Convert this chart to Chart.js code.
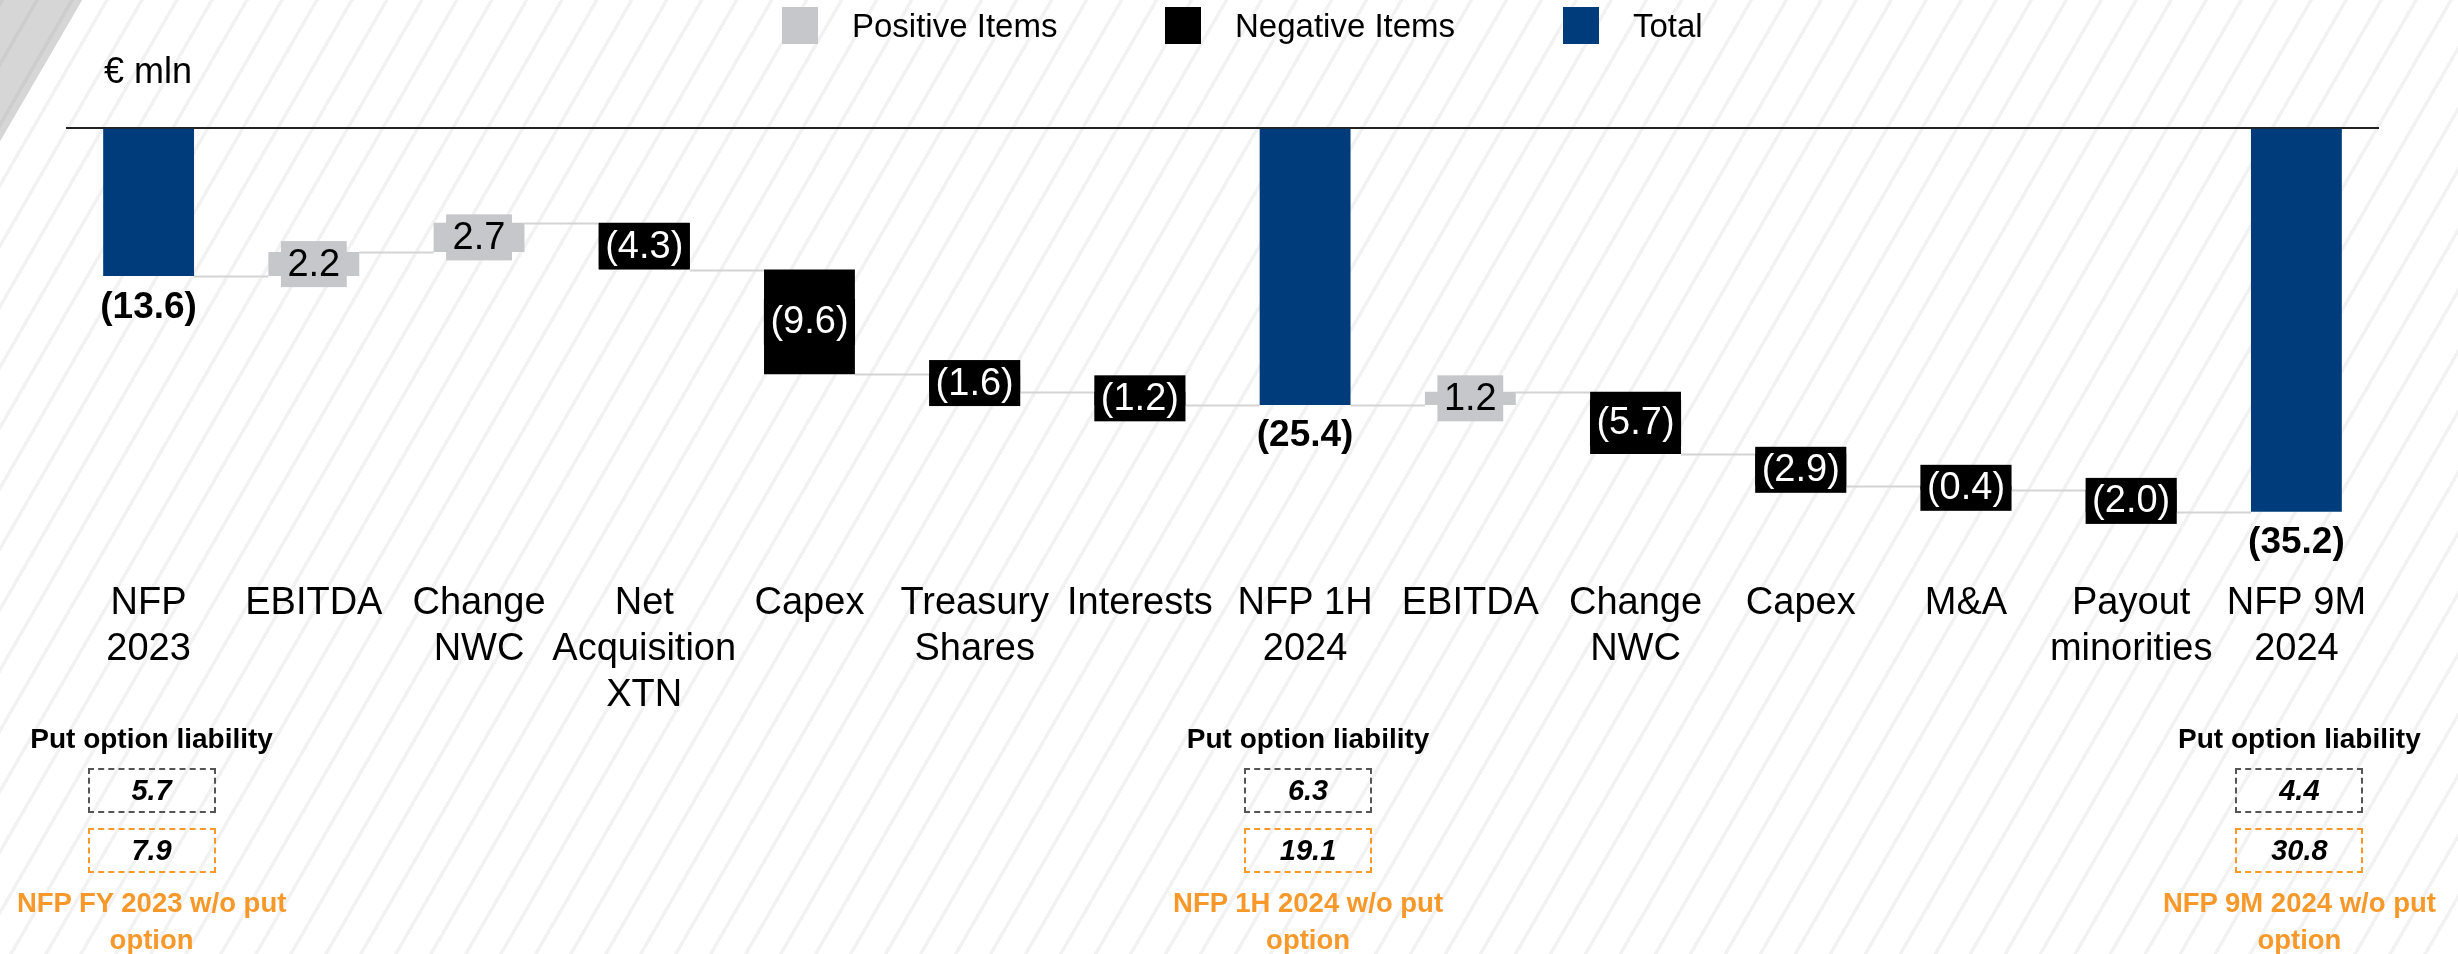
<!DOCTYPE html>
<html>
<head>
<meta charset="utf-8">
<title>NFP bridge</title>
<script src="https://cdn.jsdelivr.net/npm/chart.js@4.4.1/dist/chart.umd.min.js"></script>
<style>
  html, body { margin: 0; padding: 0; }
  body {
    width: 2458px; height: 954px; position: relative; overflow: hidden;
    background-color: #fff;
    background-image: repeating-linear-gradient(120deg, #f2f2f2 0px, #f2f2f2 3.4px, #ffffff 3.4px, #ffffff 30.3px);
    font-family: 'Liberation Sans', Arial, sans-serif;
    color: #000;
  }
  #corner { position: absolute; left: 0; top: 0; width: 90px; height: 150px;
            background-color: #d6d6d6;
            background-image: repeating-linear-gradient(120deg, #cdcdcd 0px, #cdcdcd 3.6px, #d6d6d6 3.6px, #d6d6d6 30.3px);
            clip-path: polygon(0 0, 82px 0, 0 141px); }
  #chart { position: absolute; left: 0; top: 0; }
  #unit { position: absolute; left: 104px; top: 52.5px; font-size: 36px; line-height: 36px; }
  .put { position: absolute; top: 725px; width: 360px; text-align: center; }
  .put-title { font-weight: bold; font-size: 28px; line-height: 28px; }
  .put-box { width: 128px; height: 45px; box-sizing: border-box; margin: 15px auto 0;
             font-weight: bold; font-style: italic; font-size: 29px; line-height: 41px; }
  .put-box.liab { border: 2px dashed #555; }
  .put-box.nfp { border: 2px dashed #f7992a; }
  .put-caption { margin-top: 11px; font-weight: bold; font-size: 27.5px; line-height: 37px; color: #f7992a; }
</style>
</head>
<body>
<div id="corner"></div>
<canvas id="chart" width="2458" height="954"></canvas>
<div id="unit">€ mln</div>
<script>
// --- data ---
const categories = [
  ['NFP', '2023'], 'EBITDA', ['Change', 'NWC'], ['Net', 'Acquisition', 'XTN'], 'Capex',
  ['Treasury', 'Shares'], 'Interests', ['NFP 1H', '2024'], 'EBITDA', ['Change', 'NWC'],
  'Capex', 'M&A', ['Payout', 'minorities'], ['NFP 9M', '2024']
];
const values = [-13.6, 2.2, 2.7, -4.3, -9.6, -1.6, -1.2, -25.4, 1.2, -5.7, -2.9, -0.4, -2.0, -35.2];
const isTotal = [true, false, false, false, false, false, false, true, false, false, false, false, false, true];

// put option boxes under the three totals
const putIndex = [0, 7, 13];
const putLiability = ['5.7', '6.3', '4.4'];
const nfpWithoutPut = ['7.9', '19.1', '30.8'];
const putCaptions = [
  ['NFP FY 2023 w/o put', 'option'],
  ['NFP 1H 2024 w/o put', 'option'],
  ['NFP 9M 2024 w/o put', 'option']
];

const legendNames = ['Positive Items', 'Negative Items', 'Total'];

const GREY = '#c6c7ca';
const BLACK = '#000000';
const BLUE = '#003c7b';
const FONT = "'Liberation Sans', Arial, sans-serif";
const BAR_PCT = 0.55;

// running totals -> floating bars
const ranges = [];
const levels = [];
let running = 0;
values.forEach((v, i) => {
  if (isTotal[i]) {
    ranges.push([0, v]);
    running = v;
  } else {
    ranges.push([running, running + v]);
    running = running + v;
  }
  levels.push(running);
});

const positiveData = ranges.map((r, i) => (!isTotal[i] && values[i] > 0) ? r : null);
const negativeData = ranges.map((r, i) => (!isTotal[i] && values[i] < 0) ? r : null);
const totalData = ranges.map((r, i) => isTotal[i] ? r : null);

const fmt = v => v < 0 ? '(' + Math.abs(v).toFixed(1) + ')' : v.toFixed(1);

const waterfallPlugin = {
  id: 'waterfall',
  beforeDatasetsDraw(chart) {
    const {ctx, scales: {x, y}} = chart;
    const half = (x.getPixelForValue(1) - x.getPixelForValue(0)) * BAR_PCT / 2;
    ctx.save();
    ctx.strokeStyle = '#d4d4d4';
    ctx.lineWidth = 2;
    for (let i = 0; i < values.length - 1; i++) {
      const yy = Math.round(y.getPixelForValue(levels[i])) + 0.5;
      ctx.beginPath();
      ctx.moveTo(x.getPixelForValue(i) + half, yy);
      ctx.lineTo(x.getPixelForValue(i + 1) - half, yy);
      ctx.stroke();
    }
    ctx.restore();
  },
  afterDatasetsDraw(chart) {
    const {ctx, scales: {x, y}} = chart;
    ctx.save();
    ctx.textAlign = 'center';
    values.forEach((v, i) => {
      const cx = x.getPixelForValue(i);
      const y0 = y.getPixelForValue(ranges[i][0]);
      const y1 = y.getPixelForValue(ranges[i][1]);
      const text = fmt(v);
      if (isTotal[i]) {
        ctx.font = 'bold 37px ' + FONT;
        ctx.fillStyle = '#000';
        ctx.textBaseline = 'alphabetic';
        ctx.fillText(text, cx, Math.max(y0, y1) + 41.5);
      } else {
        ctx.font = '38px ' + FONT;
        const w = ctx.measureText(text).width + 13;
        const cy = (y0 + y1) / 2;
        ctx.fillStyle = v > 0 ? GREY : BLACK;
        ctx.fillRect(cx - w / 2, cy - 23, w, 46);
        ctx.fillStyle = v > 0 ? '#000' : '#fff';
        ctx.textBaseline = 'middle';
        ctx.fillText(text, cx, cy + 1);
      }
    });
    ctx.restore();
  },
  afterDraw(chart) {
    // legend laid out like the slide
    const {ctx} = chart;
    const starts = [782, 1165, 1563];
    ctx.save();
    ctx.font = '33px ' + FONT;
    ctx.textBaseline = 'alphabetic';
    ctx.textAlign = 'left';
    chart.data.datasets.forEach((ds, k) => {
      ctx.fillStyle = ds.backgroundColor;
      ctx.fillRect(starts[k], 7, 36, 37);
      ctx.fillStyle = '#000';
      ctx.fillText(ds.label, starts[k] + 70, 37);
    });
    ctx.restore();
  }
};

const common = {grouped: false, categoryPercentage: 1, barPercentage: BAR_PCT, borderWidth: 0, borderSkipped: false};

const chart = new Chart(document.getElementById('chart'), {
  type: 'bar',
  data: {
    labels: categories,
    datasets: [
      Object.assign({label: legendNames[0], data: positiveData, backgroundColor: GREY}, common),
      Object.assign({label: legendNames[1], data: negativeData, backgroundColor: BLACK}, common),
      Object.assign({label: legendNames[2], data: totalData, backgroundColor: BLUE}, common)
    ]
  },
  options: {
    responsive: false,
    animation: false,
    layout: {padding: {left: 66, right: 79, top: 127.7, bottom: 227}},
    plugins: {
      legend: {display: false},
      tooltip: {enabled: false}
    },
    scales: {
      x: {
        offset: true,
        grid: {display: false},
        border: {display: false},
        ticks: {
          autoSkip: false, maxRotation: 0, minRotation: 0, padding: 9, color: '#000',
          font: {family: FONT, size: 38, lineHeight: 1.2}
        }
      },
      y: {
        min: -40,
        max: 0,
        border: {display: false},
        ticks: {display: false, stepSize: 10},
        grid: {
          drawTicks: false,
          lineWidth: 2,
          color: c => (c.tick && c.tick.value === 0) ? '#222' : 'rgba(0,0,0,0)'
        }
      }
    }
  },
  plugins: [waterfallPlugin]
});

// put option liability boxes, placed under their category
putIndex.forEach((idx, k) => {
  const wrap = document.createElement('div');
  wrap.className = 'put';
  wrap.style.left = (chart.scales.x.getPixelForValue(idx) - 180 + 3) + 'px';

  const title = document.createElement('div');
  title.className = 'put-title';
  title.textContent = 'Put option liability';
  const liab = document.createElement('div');
  liab.className = 'put-box liab';
  liab.textContent = putLiability[k];
  const nfp = document.createElement('div');
  nfp.className = 'put-box nfp';
  nfp.textContent = nfpWithoutPut[k];
  const cap = document.createElement('div');
  cap.className = 'put-caption';
  putCaptions[k].forEach((line, j) => {
    if (j) cap.appendChild(document.createElement('br'));
    cap.appendChild(document.createTextNode(line));
  });

  wrap.appendChild(title);
  wrap.appendChild(liab);
  wrap.appendChild(nfp);
  wrap.appendChild(cap);
  document.body.appendChild(wrap);
});
</script>
</body>
</html>
